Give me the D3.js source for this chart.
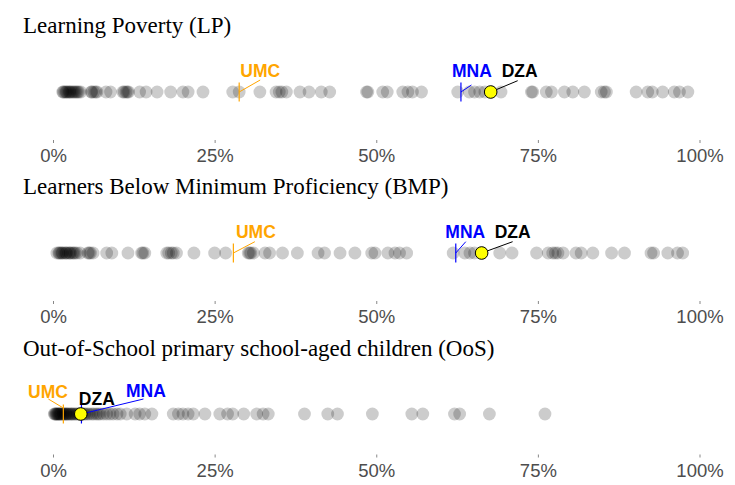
<!DOCTYPE html>
<html>
<head>
<meta charset="utf-8">
<script src="https://cdn.jsdelivr.net/npm/d3@7"></script>
<style>
  body { margin: 0; background: #fff; }
  svg { display: block; }
</style>
</head>
<body>
<svg id="chart" width="735" height="485"></svg>
<script>
// panel titles
var titles = ["Learning Poverty (LP)",
              "Learners Below Minimum Proficiency (BMP)",
              "Out-of-School primary school-aged children (OoS)"];

// country values (%)
var lpValues = [1.5, 1.6, 1.8, 2.0, 2.1, 2.3, 2.5, 2.6, 2.8, 3.0, 3.2, 3.4, 3.6, 3.8, 4.0,
  4.3, 5.9, 6.0, 6.3, 6.6, 6.8, 8.2, 8.9, 10.8, 11.0, 11.3, 11.5, 11.7, 13.4, 14.4, 16.1,
  18.2, 20.1, 20.9, 23.2, 27.8, 28.8, 32.0, 34.5, 35.0, 35.4, 36.1, 38.2, 39.6, 41.5,
  42.8, 48.5, 48.7, 51.0, 51.7, 54.1, 54.9, 55.6, 57.0, 62.6, 64.4, 65.2, 66.0, 66.8,
  67.7, 69.3, 74.0, 74.2, 76.3, 77.1, 79.1, 80.4, 82.2, 84.8, 85.3, 85.6, 90.2, 92.0,
  92.7, 94.3, 96.1, 96.9, 98.2];

var bmpValues = [0.6, 0.9, 1.0, 1.2, 1.4, 1.5, 1.8, 2.0, 2.1, 2.4, 2.6, 2.7, 3.0, 3.2, 3.4,
  3.7, 4.2, 5.4, 5.6, 5.8, 6.2, 8.3, 9.1, 11.6, 13.7, 13.9, 14.2, 17.6, 17.9, 18.3, 18.6,
  19.1, 21.8, 25.0, 26.7, 30.2, 30.4, 30.6, 31.0, 32.8, 33.5, 35.5, 37.8, 41.0, 42.0,
  44.4, 46.7, 49.3, 49.8, 51.8, 52.9, 53.6, 54.7, 61.9, 63.7, 64.5, 65.2, 66.3, 69.1,
  71.0, 74.8, 76.6, 77.3, 77.7, 78.1, 78.9, 80.9, 81.7, 83.5, 86.4, 88.4, 92.5, 92.9,
  95.1, 96.6, 97.4];

var oosValues = [0.2, 0.3, 0.4, 0.5, 0.6, 0.7, 0.8, 0.9, 1.0, 1.1, 1.2, 1.3, 1.5, 1.6, 1.7,
  1.9, 2.0, 2.1, 2.3, 2.4, 2.6, 2.8, 2.9, 3.1, 3.3, 3.5, 3.7, 3.9, 4.1, 4.3, 4.5, 4.8,
  5.0, 5.3, 5.6, 6.0, 6.3, 6.7, 7.0, 7.3, 7.8, 8.3, 8.8, 9.3, 9.9, 10.4, 11.4, 12.7,
  13.4, 14.2, 15.3, 18.6, 19.4, 20.1, 20.9, 21.7, 23.5, 25.8, 27.0, 27.8, 29.5, 31.5,
  32.5, 33.3, 38.9, 42.5, 44.0, 49.4, 55.5, 57.2, 62.1, 62.9, 67.5, 76.1];

// highlighted references per panel: UMC, MNA, DZA
var umcValues = [28.8, 27.9, 1.6];
var mnaValues = [63.1, 62.3, 4.4];
var dzaValues = [67.7, 66.3, 4.3];

var tickValues = [0, 25, 50, 75, 100];

var allValues = [lpValues, bmpValues, oosValues];

// layout of each panel (pixels)
var panels = [
  { titleY: 32.7, dotY: 92,  axisY: 140 },
  { titleY: 194,  dotY: 253, axisY: 301 },
  { titleY: 356,  dotY: 414, axisY: 454.5 }
];

// label placement (ggrepel-like), offsets from the marked point
var labelPos = [
  { UMC: {tx: 21, ty: -15, sx: 0, sy: 0, ex: 21, ey: -12},
    MNA: {tx: 11, ty: -15, sx: 0, sy: 0, ex: 10.5, ey: -7},
    DZA: {tx: 29, ty: -15, sx: 0, sy: 0, ex: 27, ey: -11.3} },
  { UMC: {tx: 22.5, ty: -15, sx: 0, sy: 0, ex: 21.5, ey: -11.3},
    MNA: {tx: 9.5, ty: -15, sx: 0, sy: 0, ex: 10, ey: -11.3},
    DZA: {tx: 31, ty: -15, sx: 0, sy: 0, ex: 31, ey: -11.3} },
  { UMC: {tx: -15.4, ty: -16.3, sx: 0, sy: -6, ex: -15, ey: -15},
    MNA: {tx: 64.5, ty: -17.3, sx: 0, sy: 0, ex: 62, ey: -15},
    DZA: {tx: 16, ty: -9, sx: 0, sy: 0, ex: 0, ey: 0, noLine: true} }
];

var colors = { UMC: "#FFA500", MNA: "#0000FF", DZA: "#000000" };

var svg = d3.select("#chart");
var x = d3.scaleLinear().domain([0, 100]).range([53, 699.5]);

panels.forEach(function(p, i) {
  var g = svg.append("g");

  g.append("text")
    .attr("x", 23)
    .attr("y", p.titleY)
    .attr("font-family", "'Liberation Serif', 'Times New Roman', serif")
    .attr("font-size", 23)
    .attr("fill", "#000")
    .text(titles[i]);

  // country dots
  g.append("g").selectAll("circle")
    .data(allValues[i])
    .enter()
    .append("circle")
    .attr("cx", function(d) { return x(d); })
    .attr("cy", p.dotY)
    .attr("r", 6.4)
    .attr("fill", "#000")
    .attr("fill-opacity", 0.2);

  // axis
  var axis = d3.axisBottom(x)
    .tickValues(tickValues)
    .tickSize(3)
    .tickPadding(6.2)
    .tickFormat(function(d) { return d + "%"; });
  var ax = g.append("g")
    .attr("transform", "translate(0," + p.axisY + ")")
    .call(axis);
  ax.select(".domain").remove();
  ax.selectAll(".tick line").attr("stroke", "#555").attr("stroke-width", 0.7);
  ax.selectAll(".tick text")
    .attr("font-family", "'Liberation Sans', Arial, sans-serif")
    .attr("font-size", 18.5)
    .attr("fill", "#4d4d4d");

  var refs = [
    { name: "UMC", v: umcValues[i] },
    { name: "MNA", v: mnaValues[i] },
    { name: "DZA", v: dzaValues[i] }
  ];

  // vertical reference marks
  refs.filter(function(r) { return r.name != "DZA"; }).forEach(function(r) {
    g.append("line")
      .attr("x1", x(r.v)).attr("x2", x(r.v))
      .attr("y1", p.dotY - 9.5).attr("y2", p.dotY + 9.5)
      .attr("stroke", colors[r.name])
      .attr("stroke-width", 1.2);
  });

  // leader lines
  refs.forEach(function(r) {
    var lp = labelPos[i][r.name];
    if (lp.noLine) return;
    g.append("line")
      .attr("x1", x(r.v) + lp.sx).attr("y1", p.dotY + lp.sy)
      .attr("x2", x(r.v) + lp.ex).attr("y2", p.dotY + lp.ey)
      .attr("stroke", colors[r.name])
      .attr("stroke-width", 1);
  });

  // DZA point
  g.append("circle")
    .attr("cx", x(dzaValues[i]))
    .attr("cy", p.dotY)
    .attr("r", 6.3)
    .attr("fill", "#FFFF00")
    .attr("stroke", "#000")
    .attr("stroke-width", 1);

  // labels
  refs.forEach(function(r) {
    var lp = labelPos[i][r.name];
    g.append("text")
      .attr("x", x(r.v) + lp.tx)
      .attr("y", p.dotY + lp.ty)
      .attr("text-anchor", "middle")
      .attr("font-family", "'Liberation Sans', Arial, sans-serif")
      .attr("font-weight", "bold")
      .attr("font-size", 17.5)
      .attr("fill", colors[r.name])
      .text(r.name);
  });
});
</script>
</body>
</html>
